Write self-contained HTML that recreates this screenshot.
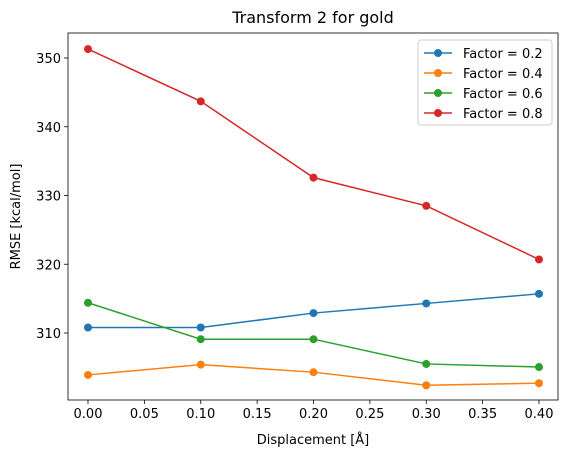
<!DOCTYPE html>
<html><head><meta charset="utf-8"><style>
body{margin:0;background:#fff;font-family:"DejaVu Sans","Liberation Sans",sans-serif;}
svg text{font-family:"DejaVu Sans","Liberation Sans",sans-serif;fill:#000}
</style></head><body>
<svg id="chart" width="571" height="457"></svg>
<script>
const xValues=[0,0.1,0.2,0.3,0.4];
const seriesNames=["Factor = 0.2","Factor = 0.4","Factor = 0.6","Factor = 0.8"];
const s1=[310.8,310.8,312.9,314.3,315.7];
const s2=[303.9,305.4,304.3,302.4,302.7];
const s3=[314.4,309.1,309.1,305.5,305.05];
const s4=[351.3,343.7,332.6,328.5,320.7];
const colors=["#1f77b4","#ff7f0e","#2ca02c","#d62728"];
const xTicks=[0,0.05,0.1,0.15,0.2,0.25,0.3,0.35,0.4];
const xTickLabels=["0.00","0.05","0.10","0.15","0.20","0.25","0.30","0.35","0.40"];
const yTicks=[310,320,330,340,350];
const series=[s1,s2,s3,s4];
const L=68,R=558,T=33,B=400;
const xs=v=>88+v/0.4*451;
const ys=v=>333-(v-310)*6.875;
const svg=document.getElementById('chart');
const NS="http://www.w3.org/2000/svg";
function mk(t,a,p){const e=document.createElementNS(NS,t);for(const k in a)e.setAttribute(k,a[k]);(p||svg).appendChild(e);return e;}
let f=mk('rect',{x:L,y:T,width:R-L,height:B-T,fill:'none',stroke:'#000','stroke-width':0.8});


let tt=mk('text',{x:(L+R)/2,y:23,'text-anchor':'middle','font-size':16});tt.textContent="Transform 2 for gold";


xTicks.forEach((v,i)=>{const x=xs(v);mk('line',{x1:x,x2:x,y1:B,y2:B+4,stroke:'#000','stroke-width':0.8});
const t=mk('text',{x:x,y:B+18,'text-anchor':'middle','font-size':13});t.textContent=xTickLabels[i];

});
yTicks.forEach(v=>{const y=ys(v);mk('line',{x1:L-4,x2:L,y1:y,y2:y,stroke:'#000','stroke-width':0.8});
const t=mk('text',{x:L-7,y:y+5,'text-anchor':'end','font-size':13});t.textContent=v;

});
let xl=mk('text',{x:(L+R)/2,y:444,'text-anchor':'middle','font-size':13});xl.textContent="Displacement [Å]";


let yl=mk('text',{x:0,y:0,'text-anchor':'middle','font-size':13,transform:`translate(20,${(T+B)/2}) rotate(-90)`});yl.textContent="RMSE [kcal/mol]";


series.forEach((s,si)=>{
const g=mk('g',{});


mk('polyline',{points:s.map((v,i)=>xs(xValues[i])+','+ys(v)).join(' '),fill:'none',stroke:colors[si],'stroke-width':1.5},g);
s.forEach((v,i)=>{const c=mk('circle',{cx:xs(xValues[i]),cy:ys(v),r:4,fill:colors[si]},g);

});
});
const lg=mk('g',{});


mk('rect',{x:418,y:40,width:134,height:85,rx:3,fill:'#fff',stroke:'#ccc'},lg);
seriesNames.forEach((n,i)=>{const y=53+i*20;
mk('line',{x1:424,x2:452,y1:y,y2:y,stroke:colors[i],'stroke-width':1.5},lg);
mk('circle',{cx:438,cy:y,r:4,fill:colors[i]},lg);
const t=mk('text',{x:463,y:y+5,'font-size':13},lg);t.textContent=n;

});
</script>
</body></html>
